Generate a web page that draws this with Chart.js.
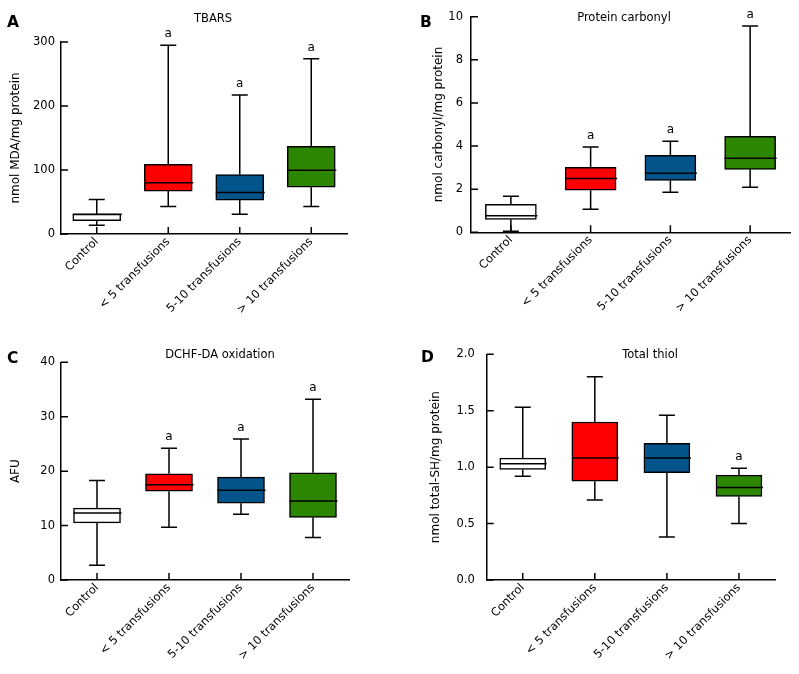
<!DOCTYPE html>
<html><head><meta charset="utf-8">
<script src="https://cdn.jsdelivr.net/npm/chart.js@4/dist/chart.umd.min.js"></script>
<style>
html,body{margin:0;padding:0;background:#fff}
#wrap{position:relative;width:799px;height:674px;overflow:hidden;background:#fff}
canvas{position:absolute}
</style></head><body>
<div id="wrap">
<canvas id="cA" width="400" height="330" style="left:0;top:0"></canvas>
<canvas id="cB" width="399" height="330" style="left:400px;top:0"></canvas>
<canvas id="cC" width="400" height="344" style="left:0;top:330px"></canvas>
<canvas id="cD" width="399" height="344" style="left:400px;top:330px"></canvas>
</div>
<script>
const categories = ['Control', '< 5 transfusions', '5-10 transfusions', '> 10 transfusions'];
const boxColors = ['#ffffff', '#ff0000', '#02548b', '#2d8600'];

// A: TBARS
const tbarsMin    = [13.5, 43, 31, 43];
const tbarsQ1     = [21, 67, 53, 73];
const tbarsMedian = [31, 80, 65, 99.5];
const tbarsQ3     = [31, 109, 93, 137];
const tbarsMax    = [54, 295, 217, 274];
const tbarsSig    = ['', 'a', 'a', 'a'];
const tbarsTicks  = [0, 100, 200, 300];

// B: Protein carbonyl
const carbMin    = [0.05, 1.07, 1.86, 2.09];
const carbQ1     = [0.60, 1.95, 2.41, 2.92];
const carbMedian = [0.77, 2.50, 2.74, 3.43];
const carbQ3     = [1.30, 3.01, 3.57, 4.45];
const carbMax    = [1.67, 3.96, 4.22, 9.57];
const carbSig    = ['', 'a', 'a', 'a'];
const carbTicks  = [0, 2, 4, 6, 8, 10];

// C: DCHF-DA oxidation
const dcfMin    = [2.7, 9.7, 12.1, 7.8];
const dcfQ1     = [10.5, 16.3, 14.1, 11.5];
const dcfMedian = [12.3, 17.5, 16.5, 14.5];
const dcfQ3     = [13.2, 19.5, 18.9, 19.7];
const dcfMax    = [18.3, 24.2, 25.9, 33.2];
const dcfSig    = ['', 'a', 'a', 'a'];
const dcfTicks  = [0, 10, 20, 30, 40];

// D: Total thiol
const thiolMin    = [0.92, 0.71, 0.38, 0.50];
const thiolQ1     = [0.98, 0.875, 0.95, 0.74];
const thiolMedian = [1.03, 1.08, 1.08, 0.82];
const thiolQ3     = [1.08, 1.40, 1.21, 0.93];
const thiolMax    = [1.53, 1.80, 1.46, 0.99];
const thiolSig    = ['', '', '', 'a'];
const thiolTicks  = ['0.0', '0.5', '1.0', '1.5', '2.0'];

const FONT = 'DejaVu Sans';

function makePanel(cfg) {
  const canvas = document.getElementById(cfg.id);
  const W = canvas.width, H = canvas.height;
  const xH = H - cfg.B - 6;
  const boxPlugin = {
    id: 'box_' + cfg.id,
    afterDatasetsDraw(chart) {
      const ctx = chart.ctx;
      const xs = chart.scales.x, ys = chart.scales.y;
      const ca = chart.chartArea;
      ctx.save();
      ctx.strokeStyle = '#000';
      ctx.lineWidth = 1.5;
      const meta = chart.getDatasetMeta(0);
      categories.forEach((c, i) => {
        const px = xs.getPixelForValue(i);
        const bw = meta.data[i].width;
        const pMin = ys.getPixelForValue(cfg.min[i]);
        const pMax = ys.getPixelForValue(cfg.max[i]);
        const pQ1 = ys.getPixelForValue(cfg.q1[i]);
        const pQ3 = ys.getPixelForValue(cfg.q3[i]);
        const pMed = ys.getPixelForValue(cfg.med[i]);
        ctx.beginPath();
        ctx.moveTo(px, pQ3); ctx.lineTo(px, pMax);
        ctx.moveTo(px - 8, pMax); ctx.lineTo(px + 8, pMax);
        ctx.moveTo(px, pQ1); ctx.lineTo(px, pMin);
        ctx.moveTo(px - 8, pMin); ctx.lineTo(px + 8, pMin);
        ctx.moveTo(px - bw / 2, pMed); ctx.lineTo(px + bw / 2 + 1, pMed);
        ctx.stroke();
        if (cfg.sig[i]) {
          ctx.fillStyle = '#000';
          ctx.font = '12px "' + FONT + '"';
          ctx.textAlign = 'center';
          ctx.textBaseline = 'alphabetic';
          ctx.fillText(cfg.sig[i], px, pMax - 8);
        }
      });
      // inward tick marks
      ctx.beginPath();
      categories.forEach((c, i) => {
        const px = xs.getPixelForValue(i);
        ctx.moveTo(px, ca.bottom); ctx.lineTo(px, ca.bottom - 7);
      });
      ys.ticks.forEach(t => {
        const py = ys.getPixelForValue(t.value);
        ctx.moveTo(ca.left, py); ctx.lineTo(ca.left + 7, py);
      });
      ctx.stroke();
      // panel letter and title
      ctx.fillStyle = '#000';
      ctx.textBaseline = 'alphabetic';
      ctx.font = 'bold 15.5px "' + FONT + '"';
      ctx.textAlign = 'left';
      ctx.fillText(cfg.letter, cfg.letterX, cfg.letterY);
      ctx.font = '11.5px "' + FONT + '"';
      ctx.textAlign = 'center';
      ctx.fillText(cfg.title, cfg.titleX, cfg.titleY);
      ctx.restore();
    }
  };
  return new Chart(canvas, {
    type: 'bar',
    data: {
      labels: categories,
      datasets: [{
        data: categories.map((c, i) => [cfg.q1[i], cfg.q3[i]]),
        backgroundColor: boxColors,
        borderColor: '#000',
        borderWidth: 1.5,
        borderSkipped: false,
        barThickness: cfg.bw
      }]
    },
    options: {
      responsive: false,
      animation: false,
      devicePixelRatio: 1,
      events: [],
      layout: { padding: { left: 0, top: cfg.T, right: W - cfg.R, bottom: 6 } },
      plugins: { legend: { display: false }, tooltip: { enabled: false }, title: { display: false } },
      scales: {
        x: {
          offset: true,
          grid: { display: false, drawTicks: false },
          border: { display: true, color: '#000', width: 1.5 },
          ticks: {
            color: '#000', font: { family: FONT, size: 11.5 },
            minRotation: 45, maxRotation: 45, autoSkip: false, padding: 1
          },
          afterFit: s => { s.height = xH; }
        },
        y: {
          min: 0, max: cfg.yMax,
          afterBuildTicks: s => { s.ticks = cfg.ticks.map(v => ({ value: +v })); },
          grid: { display: false, drawTicks: false },
          border: { display: true, color: '#000', width: 1.5 },
          ticks: {
            color: '#000', font: { family: FONT, size: 11.5 }, padding: cfg.tickPad,
            callback: (v, i) => String(cfg.ticks[i])
          },
          title: {
            display: true, text: cfg.yTitle, color: '#000',
            font: { family: FONT, size: 12 }, padding: { top: cfg.titlePad, bottom: 0 }
          },
          afterFit: s => { s.width = cfg.L; }
        }
      }
    },
    plugins: [boxPlugin]
  });
}

makePanel({ id: 'cA', L: 61, R: 347, T: 42, B: 234, yMax: 300, ticks: tbarsTicks, tickPad: 6, titlePad: 9,
  yTitle: 'nmol MDA/mg protein', title: 'TBARS', titleX: 213, titleY: 21.7, letter: 'A', letterX: 7, letterY: 27, bw: 48,
  min: tbarsMin, q1: tbarsQ1, med: tbarsMedian, q3: tbarsQ3, max: tbarsMax, sig: tbarsSig });
makePanel({ id: 'cB', L: 71, R: 390, T: 16.7, B: 232.3, yMax: 10, ticks: carbTicks, tickPad: 8, titlePad: 32,
  yTitle: 'nmol carbonyl/mg protein', title: 'Protein carbonyl', titleX: 224, titleY: 20.7, letter: 'B', letterX: 20, letterY: 26.7, bw: 51,
  min: carbMin, q1: carbQ1, med: carbMedian, q3: carbQ3, max: carbMax, sig: carbSig });
makePanel({ id: 'cC', L: 61, R: 349, T: 32.3, B: 250, yMax: 40, ticks: dcfTicks, tickPad: 6, titlePad: 9,
  yTitle: 'AFU', title: 'DCHF-DA oxidation', titleX: 220, titleY: 28.3, letter: 'C', letterX: 7, letterY: 32.7, bw: 47,
  min: dcfMin, q1: dcfQ1, med: dcfMedian, q3: dcfQ3, max: dcfMax, sig: dcfSig });
makePanel({ id: 'cD', L: 86.7, R: 375, T: 24.3, B: 250, yMax: 2, ticks: thiolTicks, tickPad: 12, titlePad: 29,
  yTitle: 'nmol total-SH/mg protein', title: 'Total thiol', titleX: 250, titleY: 28.3, letter: 'D', letterX: 21, letterY: 32, bw: 46,
  min: thiolMin, q1: thiolQ1, med: thiolMedian, q3: thiolQ3, max: thiolMax, sig: thiolSig });
</script>
</body></html>
